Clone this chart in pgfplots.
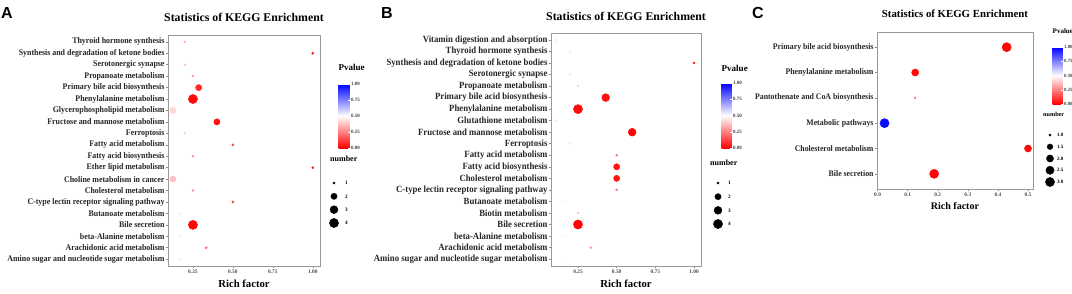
\documentclass[border=0pt]{standalone}
\usepackage{pgfplots}
\pgfplotsset{compat=1.18}
\usepackage{pgfplotstable}
\usepackage{fontspec}
\setmainfont{Liberation Serif}
\newfontfamily\lettersans{Liberation Sans}
\newfontfamily\condserif[FakeStretch=0.92]{Liberation Serif}
\usetikzlibrary{calc}

% row: 1 = top category
\pgfplotstableread{
row rf p n
1 0.200 0.35 1
2 1.000 0.03 1
3 0.200 0.38 1
4 0.250 0.30 1
5 0.286 0.08 2
6 0.250 0.02 4
7 0.125 0.42 2
8 0.400 0.03 2
9 0.200 0.40 1
10 0.500 0.12 1
11 0.250 0.30 1
12 1.000 0.05 1
13 0.125 0.38 2
14 0.250 0.30 1
15 0.500 0.10 1
16 0.167 0.46 1
17 0.250 0.01 4
18 0.167 0.46 1
19 0.333 0.20 1
20 0.167 0.46 1
}\tabA

\pgfplotstableread{
row rf p n
1 0.111 0.45 1
2 0.200 0.45 1
3 1.000 0.05 1
4 0.200 0.45 1
5 0.250 0.42 1
6 0.429 0.03 3
7 0.250 0.02 4
8 0.111 0.45 1
9 0.600 0.01 3
10 0.200 0.45 1
11 0.500 0.25 1
12 0.500 0.04 2
13 0.500 0.04 2
14 0.500 0.25 1
15 0.167 0.47 1
16 0.250 0.38 1
17 0.250 0.01 4
18 0.167 0.47 1
19 0.333 0.30 1
20 0.167 0.47 1
}\tabB

\pgfplotstableread{
row rf p n
1 0.429 0.01 3
2 0.125 0.02 2
3 0.125 0.25 1
4 0.023 0.98 3
5 0.500 0.02 2
6 0.188 0.01 3
}\tabC

\pgfplotstableread{
pos n
1 1
2 2
3 3
4 4
}\legAB

\pgfplotstableread{
pos n
1 1.0
2 1.5
3 2.0
4 2.5
5 3.0
}\legC

\pgfplotsset{
  kegg/.style={
    scale only axis, anchor=south west,
    y dir=reverse,
    axis line style={draw=black!40, line width=0.7pt},
    tick align=outside, major tick length=1.8pt,
    tick style={draw=black!45, line width=0.5pt},
    xtick pos=bottom, ytick pos=left,
    /pgf/number format/assume math mode=true,
    /pgf/number format/fixed, /pgf/number format/fixed zerofill,
    /pgf/number format/precision=2,
    xticklabel style={font=\bfseries\fontsize{5.4}{6}\selectfont, text=black!70, inner sep=1.5pt},
    title style={at={(axis description cs:0.5,1)}, anchor=base, inner sep=0pt},
    xlabel={Rich factor},
    xlabel style={at={(axis description cs:0.5,0)}, anchor=base, inner sep=0pt, yshift=-21.5pt},
    colormap={pv}{rgb255=(255,0,0) rgb255=(255,255,255) rgb255=(0,0,255)},
    point meta min=0, point meta max=1,
    clip=false,
  },
  bub/.style={scatter, only marks, mark=*, scatter src=explicit,
    scatter/use mapped color={draw=mapped color, fill=mapped color}},
  cbar/.style={
    scale only axis, y dir=normal, title={Pvalue}, xlabel={}, ylabel={},
    ytick={0,0.25,0.5,0.75,1}, yticklabels={0.00,0.25,0.50,0.75,1.00},
    yticklabel pos=right, ytick pos=right,
    tick align=inside, major tick length=2pt,
    tick style={draw=white, line width=0.4pt},
    axis line style={draw=none},
  },
  sizeleg/.style={
    scale only axis, anchor=south west, clip=false,
    xmin=-1, xmax=1, y dir=reverse,
    axis line style={draw=none}, xtick=\empty,
    yticklabel pos=right, ytick pos=right, major tick length=0pt,
    tick style={draw=none},
    title={number},
    title style={at={(axis description cs:0,1)}, anchor=base west, inner sep=0pt},
  },
}

\begin{document}
\begin{tikzpicture}
\useasboundingbox (0,0) rectangle (1072pt,293pt);

% ---------------- Panel A ----------------
\begin{axis}[kegg, at={(168pt,27pt)}, width=152pt, height=231pt,
  xmin=0.094, xmax=1.045, ymin=0.4, ymax=20.6,
  xtick={0.25,0.5,0.75,1},
  ytick={1,...,20},
  yticklabels={Thyroid hormone synthesis, Synthesis and degradation of ketone bodies, Serotonergic synapse, Propanoate metabolism, Primary bile acid biosynthesis, Phenylalanine metabolism, Glycerophospholipid metabolism, Fructose and mannose metabolism, Ferroptosis, Fatty acid metabolism, Fatty acid biosynthesis, Ether lipid metabolism, Choline metabolism in cancer, Cholesterol metabolism, C-type lectin receptor signaling pathway, Butanoate metabolism, Bile secretion, beta-Alanine metabolism, Arachidonic acid metabolism, Amino sugar and nucleotide sugar metabolism},
  yticklabel style={font=\condserif\bfseries\fontsize{8.6}{9}\selectfont, text=black!85, inner sep=1.5pt},
  title={Statistics of KEGG Enrichment},
  title style={font=\bfseries\fontsize{11.8}{13}\selectfont, yshift=8pt},
  xlabel style={font=\bfseries\fontsize{10.7}{12}\selectfont},
  colorbar,
  colorbar style={cbar,
    at={($(parent axis.north east)+(10pt,-49pt)$)}, anchor=north west,
    width=11pt, height=64pt,
    title style={at={(axis description cs:0,1)}, anchor=base west, inner sep=0pt, yshift=8pt, font=\bfseries\fontsize{9}{10}\selectfont},
    yticklabel style={font=\bfseries\fontsize{5}{5.5}\selectfont, text=black!75, inner sep=1.5pt},
  },
]
\addplot[bub, visualization depends on={\thisrow{n} \as \nn},
  scatter/@pre marker code/.append style={/tikz/mark size={1.1+3.5*sqrt((\nn-1)/3)}}]
  table[x=rf, y=row, meta=p]{\tabA};
\end{axis}

\begin{axis}[sizeleg, at={(330pt,70pt)}, width=8pt, height=40pt,
  ymin=1, ymax=4, ytick={1,2,3,4}, yticklabels={1,2,3,4},
  yticklabel style={font=\bfseries\fontsize{5.2}{6}\selectfont, anchor=west, inner sep=0pt, xshift=7pt},
  title style={yshift=16pt, font=\bfseries\fontsize{8}{9}\selectfont}]
\addplot[scatter, only marks, mark=*, scatter/use mapped color={draw=black, fill=black},
  visualization depends on={\thisrow{n} \as \nn},
  scatter/@pre marker code/.append style={/tikz/mark size={1.1+3.5*sqrt((\nn-1)/3)}}]
  table[x expr=0, y=pos]{\legAB};
\end{axis}

% ---------------- Panel B ----------------
\begin{axis}[kegg, at={(551pt,27pt)}, width=150pt, height=233pt,
  xmin=0.0755, xmax=1.045, ymin=0.4, ymax=20.6,
  xtick={0.25,0.5,0.75,1},
  ytick={1,...,20},
  yticklabels={Vitamin digestion and absorption, Thyroid hormone synthesis, Synthesis and degradation of ketone bodies, Serotonergic synapse, Propanoate metabolism, Primary bile acid biosynthesis, Phenylalanine metabolism, Glutathione metabolism, Fructose and mannose metabolism, Ferroptosis, Fatty acid metabolism, Fatty acid biosynthesis, Cholesterol metabolism, C-type lectin receptor signaling pathway, Butanoate metabolism, Biotin metabolism, Bile secretion, beta-Alanine metabolism, Arachidonic acid metabolism, Amino sugar and nucleotide sugar metabolism},
  yticklabel style={font=\condserif\bfseries\fontsize{9.5}{10}\selectfont, text=black!85, inner sep=1.5pt},
  title={Statistics of KEGG Enrichment},
  title style={font=\bfseries\fontsize{11.8}{13}\selectfont, yshift=7pt},
  xlabel style={font=\bfseries\fontsize{10.7}{12}\selectfont},
  colorbar,
  colorbar style={cbar,
    at={($(parent axis.north east)+(12pt,-50pt)$)}, anchor=north west,
    width=10pt, height=65pt,
    title style={at={(axis description cs:0,1)}, anchor=base west, inner sep=0pt, yshift=6pt, font=\bfseries\fontsize{9}{10}\selectfont},
    yticklabel style={font=\bfseries\fontsize{5}{5.5}\selectfont, text=black!75, inner sep=1.5pt},
  },
]
\addplot[bub, visualization depends on={\thisrow{n} \as \nn},
  scatter/@pre marker code/.append style={/tikz/mark size={1.1+3.5*sqrt((\nn-1)/3)}}]
  table[x=rf, y=row, meta=p]{\tabB};
\end{axis}

\begin{axis}[sizeleg, at={(714pt,69pt)}, width=8pt, height=41pt,
  ymin=1, ymax=4, ytick={1,2,3,4}, yticklabels={1,2,3,4},
  yticklabel style={font=\bfseries\fontsize{5.2}{6}\selectfont, anchor=west, inner sep=0pt, xshift=6pt},
  title style={yshift=12pt, xshift=-4pt, font=\bfseries\fontsize{8}{9}\selectfont}]
\addplot[scatter, only marks, mark=*, scatter/use mapped color={draw=black, fill=black},
  visualization depends on={\thisrow{n} \as \nn},
  scatter/@pre marker code/.append style={/tikz/mark size={1.1+3.5*sqrt((\nn-1)/3)}}]
  table[x expr=0, y=pos]{\legAB};
\end{axis}

% ---------------- Panel C ----------------
\begin{axis}[kegg, at={(877pt,104pt)}, width=156pt, height=157pt,
  xmin=-0.002, xmax=0.5166, ymin=0.4, ymax=6.6,
  xtick={0,0.1,0.2,0.3,0.4,0.5},
  /pgf/number format/precision=1,
  ytick={1,...,6},
  yticklabels={Primary bile acid biosynthesis, Phenylalanine metabolism, Pantothenate and CoA biosynthesis, Metabolic pathways, Cholesterol metabolism, Bile secretion},
  yticklabel style={font=\condserif\bfseries\fontsize{8.5}{9}\selectfont, text=black!85, inner sep=1.5pt},
  title={Statistics of KEGG Enrichment},
  title style={font=\bfseries\fontsize{10.8}{12}\selectfont, yshift=8.5pt},
  xlabel style={font=\bfseries\fontsize{10}{11}\selectfont, yshift=1pt},
  colorbar,
  colorbar style={cbar,
    at={($(parent axis.north east)+(11pt,-15pt)$)}, anchor=north west,
    width=10pt, height=57pt,
    title style={at={(axis description cs:0,1)}, anchor=base west, inner sep=0pt, yshift=7.5pt, font=\bfseries\fontsize{7}{8}\selectfont},
    yticklabel style={font=\bfseries\fontsize{4.8}{5}\selectfont, text=black!75, inner sep=1.5pt},
  },
]
\addplot[bub, visualization depends on={\thisrow{n} \as \nn},
  scatter/@pre marker code/.append style={/tikz/mark size={1.1+3.5*sqrt((\nn-1)/2)}}]
  table[x=rf, y=row, meta=p]{\tabC};
\end{axis}

\begin{axis}[sizeleg, at={(1046pt,111pt)}, width=8pt, height=47pt,
  ymin=1, ymax=5, ytick={1,2,3,4,5}, yticklabels={1.0,1.5,2.0,2.5,3.0},
  yticklabel style={font=\bfseries\fontsize{5}{5.5}\selectfont, anchor=west, inner sep=0pt, xshift=3pt},
  title style={yshift=13pt, xshift=-3pt, font=\bfseries\fontsize{6.2}{7}\selectfont}]
\addplot[scatter, only marks, mark=*, scatter/use mapped color={draw=black, fill=black},
  visualization depends on={\thisrow{n} \as \nn},
  scatter/@pre marker code/.append style={/tikz/mark size={1.1+3.5*sqrt((\nn-1)/2)}}]
  table[x expr=0, y=pos]{\legC};
\end{axis}

% panel letters
\node[anchor=base west, inner sep=0pt, font=\lettersans\bfseries\fontsize{16}{18}\selectfont] at (1pt,275pt) {A};
\node[anchor=base west, inner sep=0pt, font=\lettersans\bfseries\fontsize{16}{18}\selectfont] at (381pt,275pt) {B};
\node[anchor=base west, inner sep=0pt, font=\lettersans\bfseries\fontsize{16}{18}\selectfont] at (752pt,275pt) {C};
\end{tikzpicture}
\end{document}
